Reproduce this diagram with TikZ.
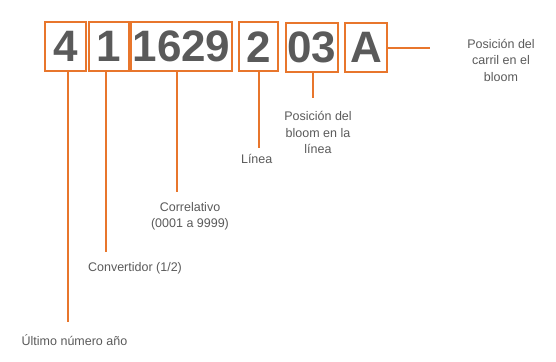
\documentclass[tikz,border=0pt]{standalone}
\usepackage{fontspec}
\setmainfont{Liberation Sans}
\definecolor{org}{HTML}{E8762C}
\definecolor{dig}{HTML}{5A5A5A}
\definecolor{txt}{HTML}{5A5A5A}
\begin{document}
\begin{tikzpicture}[x=1pt,y=-1pt,
  digbox/.style={draw=org,line width=2pt,inner sep=0pt,text=dig,
    font=\fontsize{44}{44}\selectfont\bfseries},
  lbl/.style={text=txt,align=center,inner sep=0pt,
    font=\fontsize{12.5}{16.5}\selectfont},
  conn/.style={draw=org,line width=1.8pt}]
\useasboundingbox (0,0) rectangle (556,361);
\node[digbox,minimum width=40.5pt,minimum height=48.5pt] (b4) at (65.5,46.75) {4};
\node[digbox,minimum width=40.5pt,minimum height=48.5pt] (b1) at (108.75,46.75) {1};
\node[digbox,minimum width=101pt,minimum height=48.5pt] (b1629) at (181.5,46.75) {1629};
\node[digbox,minimum width=39.5pt,minimum height=48.5pt] (b2) at (258.25,46.75) {2};
\node[digbox,minimum width=52pt,minimum height=49pt] (b03) at (312,47.5) {03};
\node[digbox,minimum width=42pt,minimum height=49pt] (bA) at (366,47.5) {A};

\node[lbl] (l4) at (74.5,340) {Último número año};
\node[lbl] (l1) at (135,268) {Convertidor (1/2)};
\node[lbl] (l1629) at (190,216.5) {Correlativo\\(0001 a 9999)};
\node[lbl] (l2) at (256.7,159) {Línea};
\node[lbl] (l03) at (318,132.5) {Posición del\\bloom en la\\línea};
\node[lbl] (lA) at (501,60) {Posición del\\carril en el\\bloom};

\coordinate (e4) at (68.3,321.7);
\coordinate (e1) at (106,251.7);
\coordinate (e1629) at (176.7,191.7);
\coordinate (e2) at (259,148);
\coordinate (e03) at (312.7,98);
\coordinate (eA) at (430,48.3);

\draw[conn] (b4.south -| e4) -- (e4);
\draw[conn] (b1.south -| e1) -- (e1);
\draw[conn] (b1629.south -| e1629) -- (e1629);
\draw[conn] (b2.south -| e2) -- (e2);
\draw[conn] (b03.south -| e03) -- (e03);
\draw[conn] (bA.east |- eA) -- (eA);
\end{tikzpicture}
\end{document}
